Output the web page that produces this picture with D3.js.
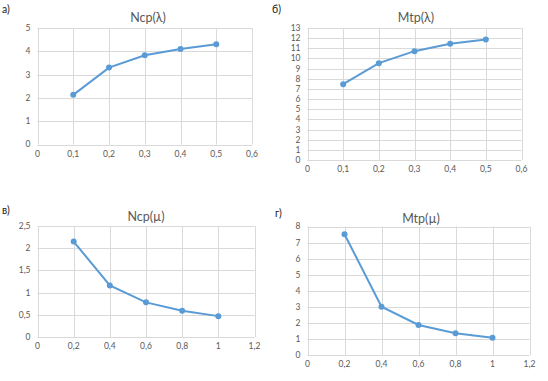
<!DOCTYPE html>
<html>
<head>
<meta charset="utf-8">
<script src="https://cdn.jsdelivr.net/npm/d3@7"></script>
<style>
  body { margin: 0; background: #fff; }
  svg { display: block; font-family: Lato, "Open Sans", sans-serif; }
</style>
</head>
<body>
<div id="chart"></div>
<script>
// values
const lambdaX = [0.1, 0.2, 0.3, 0.4, 0.5];
const muX = [0.2, 0.4, 0.6, 0.8, 1];
const ncpLambda = [2.13, 3.3, 3.83, 4.1, 4.3];
const mtpLambda = [7.47, 9.54, 10.72, 11.44, 11.87];
const ncpMu = [2.15, 1.16, 0.78, 0.59, 0.47];
const mtpMu = [7.52, 3.01, 1.87, 1.35, 1.08];
const lambdaTicks = [0, 0.1, 0.2, 0.3, 0.4, 0.5, 0.6];
const muTicks = [0, 0.2, 0.4, 0.6, 0.8, 1, 1.2];
const ncpLambdaTicks = [0, 1, 2, 3, 4, 5];
const mtpLambdaTicks = d3.range(0, 14);
const ncpMuTicks = [0, 0.5, 1, 1.5, 2, 2.5];
const mtpMuTicks = d3.range(0, 9);
const titles = ["Ncp(λ)", "Mtp(λ)", "Ncp(µ)", "Mtp(µ)"];
const letters = ["а)", "б)", "в)", "г)"];

const width = 548, height = 381;
const svg = d3.select("#chart").append("svg").attr("width", width).attr("height", height);
const fmt = (d) => String(d).replace(".", ",");

const panels = [
  { xs: lambdaX, ys: ncpLambda, xt: lambdaTicks, yt: ncpLambdaTicks, box: { l: 37.5, r: 252, t: 28, b: 144.5 }, title: [148, 22], letter: [2, 13] },
  { xs: lambdaX, ys: mtpLambda, xt: lambdaTicks, yt: mtpLambdaTicks, box: { l: 307.5, r: 521.5, t: 28, b: 160 }, title: [416, 22], letter: [272, 13] },
  { xs: muX, ys: ncpMu, xt: muTicks, yt: ncpMuTicks, box: { l: 37.5, r: 254.5, t: 226, b: 337 }, title: [146, 221], letter: [2, 214] },
  { xs: muX, ys: mtpMu, xt: muTicks, yt: mtpMuTicks, box: { l: 307.5, r: 529.5, t: 226.5, b: 355 }, title: [421, 223], letter: [275, 217] },
];

panels.forEach((p, i) => {
  const g = svg.append("g");
  const x = d3.scaleLinear().domain(d3.extent(p.xt)).range([p.box.l, p.box.r]);
  const y = d3.scaleLinear().domain(d3.extent(p.yt)).range([p.box.b, p.box.t]);

  g.append("g").selectAll("line.h").data(p.yt).join("line")
    .attr("x1", p.box.l).attr("x2", p.box.r)
    .attr("y1", (d) => Math.round(y(d)) + 0.5).attr("y2", (d) => Math.round(y(d)) + 0.5)
    .attr("stroke", "#d9d9d9");
  g.append("g").selectAll("line.v").data(p.xt).join("line")
    .attr("y1", p.box.t).attr("y2", p.box.b)
    .attr("x1", (d) => Math.round(x(d)) + 0.5).attr("x2", (d) => Math.round(x(d)) + 0.5)
    .attr("stroke", "#d9d9d9");

  g.append("g").selectAll("text").data(p.yt).join("text")
    .attr("x", p.box.l - 7).attr("y", (d) => y(d)).attr("dy", "0.35em")
    .attr("text-anchor", "end").attr("font-size", 8.5).attr("fill", "#595959").text(fmt);
  g.append("g").selectAll("text").data(p.xt).join("text")
    .attr("x", (d) => x(d)).attr("y", p.box.b + 12)
    .attr("text-anchor", "middle").attr("font-size", 8.5).attr("fill", "#595959").text(fmt);

  const pts = p.xs.map((v, k) => [v, p.ys[k]]);
  g.append("path").datum(pts).attr("fill", "none").attr("stroke", "#5b9bd5").attr("stroke-width", 2)
    .attr("d", d3.line().x((d) => x(d[0])).y((d) => y(d[1])));
  g.append("g").selectAll("circle").data(pts).join("circle")
    .attr("cx", (d) => x(d[0])).attr("cy", (d) => y(d[1])).attr("r", 3)
    .attr("fill", "#5b9bd5");

  g.append("text").attr("x", p.title[0]).attr("y", p.title[1]).attr("text-anchor", "middle")
    .attr("font-size", 12.5).attr("fill", "#595959").text(titles[i]);
  g.append("text").attr("x", p.letter[0]).attr("y", p.letter[1])
    .attr("font-size", 10.5).attr("fill", "#222").text(letters[i]);
});
</script>
</body>
</html>
